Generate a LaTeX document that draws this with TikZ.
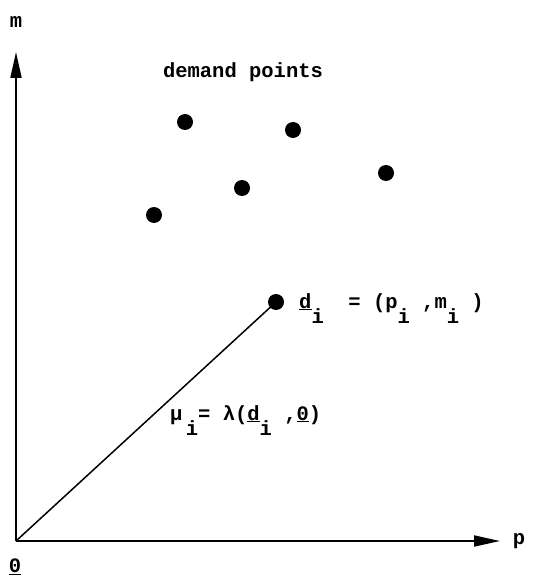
\documentclass[tikz,border=0pt]{standalone}
\usepackage{fontspec}
\setmainfont{Liberation Mono}
\usetikzlibrary{arrows.meta}
\tikzset{
  dot/.style={circle,fill=black,inner sep=0pt,minimum size=16},
  axis/.style={line width=1.8,-{Triangle[length=26,width=11]}},
  lbl/.style={font=\fontsize{20.5}{24}\selectfont\bfseries,inner sep=0pt},
}
\newcommand{\sbi}{\raisebox{-0.75em}{i}}
\begin{document}
\begin{tikzpicture}[x=1pt,y=-1pt]
\useasboundingbox (0,0) rectangle (540,585);
\coordinate (O) at (16,541);
\coordinate (ytop) at (16,52);
\coordinate (xend) at (500,541);
\draw[axis] (O) -- (ytop);
\draw[axis] (O) -- (xend);
\node[lbl] (m) at (16,22) {m};
\node[lbl] (p) at (519,541) {p};
\node[lbl] (zero) at (15,567) {\underline{0}};
\node[lbl] (title) at (243,72) {demand points};
\node[dot] (a) at (185,122) {};
\node[dot] (b) at (293,130) {};
\node[dot] (c) at (242,188) {};
\node[dot] (d) at (386,173) {};
\node[dot] (e) at (154,215) {};
\node[dot] (di) at (276,302) {};
\draw[line width=1.5] (O) -- (di.center);
\node[lbl,anchor=base west] (dlab) at (299,308) {\underline{d}\sbi{}\ \ = (p\sbi{} ,m\sbi{} )};
\node[lbl,anchor=base west] (mulab) at (170,420) {μ\,\sbi{}= λ(\underline{d}\sbi{} ,\underline{0})};
\end{tikzpicture}
\end{document}
